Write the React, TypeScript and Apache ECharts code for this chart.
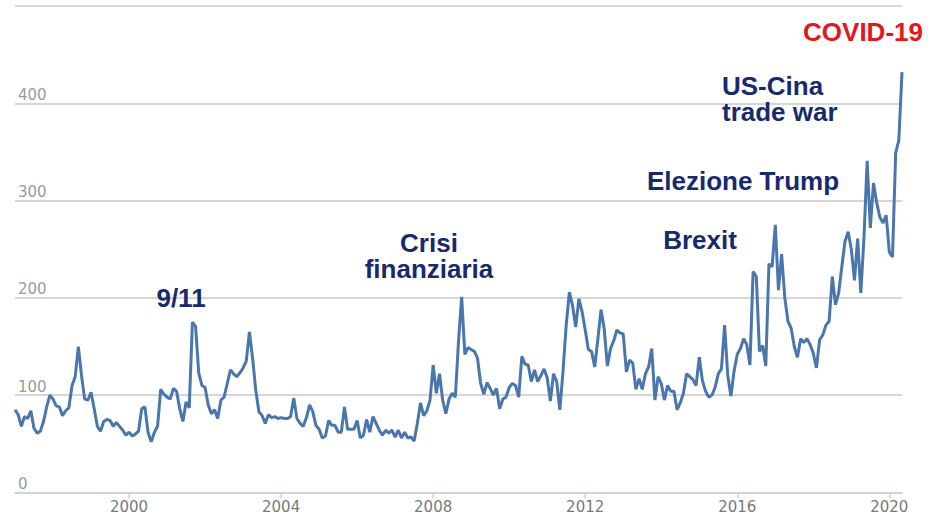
import React, { useEffect, useRef } from "react";
import * as echarts from "echarts";

// Monthly index values, January 1997 – May 2020
const startYear = 1997;
const values1997 = [85, 80, 68, 78, 76, 84, 66, 61, 63, 73, 88, 100];
const values1998 = [96, 89, 88, 79, 84, 87, 110, 119, 150, 120, 96, 95];
const values1999 = [103, 86, 68, 63, 73, 75, 74, 68, 72, 68, 64, 59];
const values2000 = [62, 58, 60, 63, 86, 88, 62, 52, 62, 68, 106, 101];
const values2001 = [98, 96, 107, 104, 86, 73, 93, 87, 175, 171, 123, 110];
const values2002 = [108, 90, 81, 85, 76, 95, 98, 112, 126, 122, 119, 123];
const values2003 = [128, 135, 165, 138, 105, 83, 79, 71, 80, 77, 78, 76];
const values2004 = [77, 76, 76, 78, 97, 76, 71, 68, 77, 90, 83, 69];
const values2005 = [65, 56, 58, 74, 69, 69, 62, 62, 88, 65, 65, 65];
const values2006 = [74, 56, 59, 75, 62, 78, 71, 64, 59, 64, 61, 64];
const values2007 = [57, 64, 56, 62, 56, 57, 53, 71, 92, 79, 84, 95];
const values2008 = [131, 102, 122, 95, 81, 96, 102, 98, 155, 201, 142, 149];
const values2009 = [147, 145, 138, 112, 101, 113, 107, 100, 107, 86, 96, 98];
const values2010 = [108, 112, 110, 98, 140, 132, 131, 114, 126, 114, 120, 127];
const values2011 = [118, 94, 122, 114, 85, 125, 172, 206, 192, 170, 199, 186];
const values2012 = [167, 147, 145, 129, 158, 188, 168, 130, 148, 156, 167, 164];
const values2013 = [163, 124, 136, 133, 106, 117, 106, 122, 129, 148, 95, 119];
const values2014 = [112, 95, 110, 104, 104, 85, 92, 102, 122, 119, 116, 110];
const values2015 = [139, 115, 104, 98, 100, 108, 122, 127, 172, 120, 99, 125];
const values2016 = [142, 148, 158, 152, 131, 227, 222, 145, 151, 130, 235, 232];
const values2017 = [275, 208, 245, 200, 176, 169, 150, 139, 158, 154, 158, 152];
const values2018 = [143, 128, 157, 162, 172, 176, 222, 193, 205, 232, 258, 268];
const values2019 = [250, 218, 261, 205, 262, 341, 272, 318, 298, 283, 277, 285];
const values2020 = [247, 242, 349, 362, 432];

const epuValues: number[] = [
  ...values1997, ...values1998, ...values1999, ...values2000, ...values2001,
  ...values2002, ...values2003, ...values2004, ...values2005, ...values2006,
  ...values2007, ...values2008, ...values2009, ...values2010, ...values2011,
  ...values2012, ...values2013, ...values2014, ...values2015, ...values2016,
  ...values2017, ...values2018, ...values2019, ...values2020,
];

const tickYears = [2000, 2004, 2008, 2012, 2016, 2020];
const yTickLabels = [0, 100, 200, 300, 400];

const eventLabels = {
  nineEleven: "9/11",
  crisis: "Crisi\nfinanziaria",
  brexit: "Brexit",
  trump: "Elezione Trump",
  tradeWar: "US-Cina\ntrade war",
  covid: "COVID-19",
};

const categories = epuValues.map((_, i) => {
  const y = startYear + Math.floor(i / 12);
  const m = (i % 12) + 1;
  return `${y}-${String(m).padStart(2, "0")}`;
});

const isTick = (_index: number, value: string) =>
  String(value).endsWith("-01") && tickYears.includes(Number(String(value).slice(0, 4)));

const NAVY = "#172a6e";
const RED = "#e5161c";
const ANNOT_FONT = 'bold 26px "Liberation Sans", Arial, sans-serif';

function annot(text: string, x: number, y: number, align: string, fill = NAVY, lineHeight = 26) {
  return {
    type: "text",
    x,
    y,
    z: 10,
    style: {
      text,
      font: ANNOT_FONT,
      fill,
      lineHeight,
      align,
      verticalAlign: "middle",
      textAlign: align,
      textVerticalAlign: "middle",
    },
  };
}

export default function App() {
  const ref = useRef<HTMLDivElement>(null);

  useEffect(() => {
    if (!ref.current) return;
    const chart = echarts.init(ref.current, null, { renderer: "svg" });
    const option: any = {
      animation: false,
      backgroundColor: "#ffffff",
      grid: { left: 15, right: 26, top: 6, bottom: 23.5, containLabel: false },
      xAxis: {
        type: "category",
        data: categories,
        boundaryGap: false,
        axisLine: { show: true, lineStyle: { color: "#c8d4e4", width: 2 } },
        axisTick: {
          show: true,
          interval: isTick,
          length: 6,
          lineStyle: { color: "#c8d4e4", width: 1.5 },
        },
        axisLabel: {
          interval: isTick,
          formatter: (v: string) => String(v).slice(0, 4),
          color: "#7a7a7a",
          fontFamily: "DejaVu Sans",
          fontSize: 15,
          margin: 7,
        },
        splitLine: { show: false },
      },
      yAxis: {
        type: "value",
        min: 0,
        max: 500,
        interval: 100,
        axisLine: { show: false },
        axisTick: { show: false },
        axisLabel: {
          inside: true,
          align: "left",
          verticalAlign: "bottom",
          margin: 3,
          padding: [0, 0, 1, 0],
          color: "#9a9a9a",
          fontFamily: "DejaVu Sans",
          fontSize: 15,
          formatter: (v: number) => (yTickLabels.includes(v) ? String(v) : ""),
        },
        splitLine: { show: true, lineStyle: { color: "#d6d6d6", width: 2 } },
      },
      series: [
        {
          type: "line",
          data: epuValues,
          symbol: "none",
          smooth: false,
          lineStyle: { color: "#4a76ae", width: 3 },
          z: 3,
        },
      ],
      graphic: [
        annot(eventLabels.nineEleven, 181, 298, "center"),
        annot(eventLabels.crisis, 429, 256, "center"),
        annot(eventLabels.brexit, 700, 240, "center"),
        annot(eventLabels.trump, 743, 181, "center"),
        annot(eventLabels.tradeWar, 722, 99, "left"),
        annot(eventLabels.covid, 863, 32, "center", RED),
      ],
    };
    chart.setOption(option);
    return () => chart.dispose();
  }, []);

  return (
    <div
      ref={ref}
      style={{ position: "absolute", left: 0, top: 0, width: 928, height: 516, background: "#fff" }}
    />
  );
}
